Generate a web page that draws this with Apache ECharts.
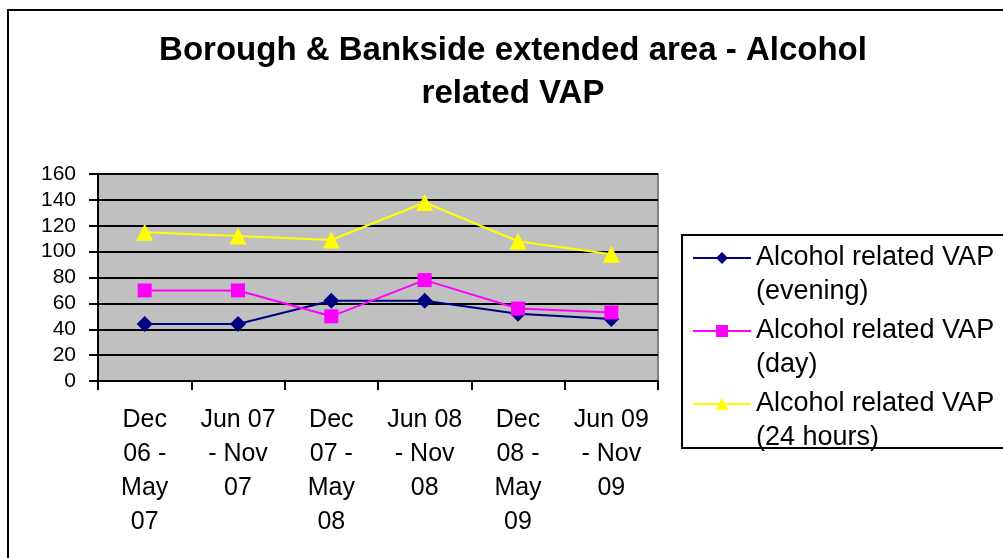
<!DOCTYPE html>
<html>
<head>
<meta charset="utf-8">
<script src="https://cdn.jsdelivr.net/npm/echarts@6/dist/echarts.min.js"></script>
<style>
html,body{margin:0;padding:0;background:#fff;}
#c{width:1003px;height:558px;}
</style>
</head>
<body>
<div id="c"></div>
<script>
var titleText = 'Borough & Bankside extended area - Alcohol\nrelated VAP';
var categories = ['Dec\n06 -\nMay\n07', 'Jun 07\n- Nov\n07', 'Dec\n07 -\nMay\n08', 'Jun 08\n- Nov\n08', 'Dec\n08 -\nMay\n09', 'Jun 09\n- Nov\n09'];
var seriesNames = ['Alcohol related VAP\n(evening)', 'Alcohol related VAP\n(day)', 'Alcohol related VAP\n(24 hours)'];
var evening = [44, 44, 62, 62, 52, 48];
var day = [70, 70, 50, 78, 56, 53];
var hours24 = [115, 112, 109, 138, 108, 98];
var yTicks = [0, 20, 40, 60, 80, 100, 120, 140, 160];

var FONT = '"Liberation Sans", Arial, sans-serif';
var chart = echarts.init(document.getElementById('c'), null, {renderer: 'canvas'});

function mkSeries(name, data, color, symbol, size) {
  return {
    name: name, type: 'line', data: data,
    symbol: symbol, symbolSize: size,
    lineStyle: {color: color, width: 2},
    itemStyle: {color: color, borderWidth: 0},
    emphasis: {disabled: true},
    animation: false
  };
}

chart.setOption({
  animation: false,
  backgroundColor: '#ffffff',
  graphic: [
    {type: 'rect', shape: {x: 8, y: 10, width: 1010, height: 570}, style: {fill: 'none', stroke: '#000', lineWidth: 2}, silent: true, z: 100},
    {type: 'rect', shape: {x: 682, y: 235, width: 400, height: 213}, style: {fill: 'none', stroke: '#000', lineWidth: 2}, silent: true, z: 100},
    {type: 'text', x: 513, y: 29, silent: true, z: 100,
      style: {text: titleText, textAlign: 'center', textVerticalAlign: 'top', fill: '#000',
        fontFamily: FONT, fontSize: 33, fontWeight: 'bold', lineHeight: 43}}
  ],
  legend: {
    orient: 'vertical',
    left: 692,
    top: 207,
    padding: 0,
    itemWidth: 58,
    itemHeight: 15,
    itemGap: -29,
    data: seriesNames,
    formatter: function (name) { return ' \n' + name; },
    textStyle: {fontFamily: FONT, fontSize: 27, color: '#000', lineHeight: 34},
    selectedMode: false
  },
  grid: {left: 98, top: 174, width: 560, height: 207, show: true, backgroundColor: '#C0C0C0', borderColor: '#808080', borderWidth: 2},
  xAxis: {
    type: 'category',
    data: categories,
    boundaryGap: true,
    axisLine: {lineStyle: {color: '#000', width: 2}},
    axisTick: {show: true, length: 9, lineStyle: {color: '#000', width: 2}, alignWithLabel: false},
    axisLabel: {fontFamily: FONT, fontSize: 25, color: '#000', lineHeight: 34, margin: 22, interval: 0, align: 'center'}
  },
  yAxis: {
    type: 'value',
    min: yTicks[0],
    max: yTicks[yTicks.length - 1],
    interval: 20,
    axisLine: {show: true, lineStyle: {color: '#000', width: 2}},
    axisTick: {show: true, length: 9, lineStyle: {color: '#000', width: 2}},
    axisLabel: {fontFamily: FONT, fontSize: 21, color: '#000', margin: 22},
    splitLine: {show: true, lineStyle: {color: '#000', width: 2}}
  },
  series: [
    mkSeries(seriesNames[0], evening, '#000080', 'diamond', 16),
    mkSeries(seriesNames[1], day, '#FF00FF', 'rect', 14),
    mkSeries(seriesNames[2], hours24, '#FFFF00', 'triangle', 17)
  ]
});
</script>
</body>
</html>
